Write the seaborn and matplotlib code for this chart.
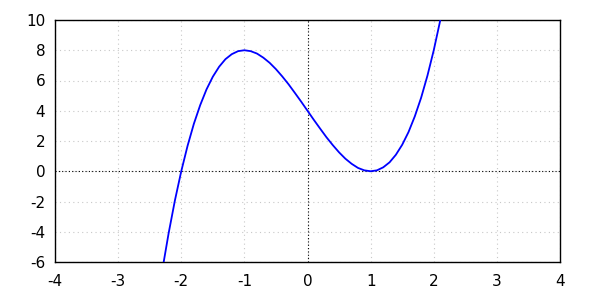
import matplotlib
matplotlib.use("Agg")
import matplotlib.pyplot as plt
import seaborn as sns
import pandas as pd

x_vals = [-2.3, -2.2, -2.1, -2.0, -1.9, -1.8, -1.7, -1.6, -1.5, -1.4, -1.3, -1.2,
          -1.1, -1.0, -0.9, -0.8, -0.7, -0.6, -0.5, -0.4, -0.3, -0.2, -0.1, 0.0,
          0.1, 0.2, 0.3, 0.4, 0.5, 0.6, 0.7, 0.8, 0.9, 1.0, 1.1, 1.2, 1.3, 1.4,
          1.5, 1.6, 1.7, 1.8, 1.9, 2.0, 2.1, 2.2]
y_vals = [-6.53, -4.10, -1.92, 0.00, 1.68, 3.14, 4.37, 5.41, 6.25, 6.91, 7.41, 7.74,
          7.94, 8.00, 7.94, 7.78, 7.51, 7.17, 6.75, 6.27, 5.75, 5.18, 4.60, 4.00,
          3.40, 2.82, 2.25, 1.73, 1.25, 0.83, 0.49, 0.22, 0.06, 0.00, 0.06, 0.26,
          0.59, 1.09, 1.75, 2.59, 3.63, 4.86, 6.32, 8.00, 9.92, 12.10]
x_ticks = [-4, -3, -2, -1, 0, 1, 2, 3, 4]
y_ticks = [-6, -4, -2, 0, 2, 4, 6, 8, 10]

sns.set_style("white")
plt.rcParams['font.family'] = ['DejaVu Sans']
plt.rcParams['axes.unicode_minus'] = False

df = pd.DataFrame({"x": x_vals, "y": y_vals})

fig = plt.figure(figsize=(6, 3), dpi=100)
ax = fig.add_axes([55/600, 1 - 262/300, (560 - 55)/600, (262 - 20)/300])

for t in x_ticks:
    ax.axvline(t, color="#c8c8c8", lw=0.8, ls=(0, (1, 3)), zorder=0)
for t in y_ticks:
    ax.axhline(t, color="#c8c8c8", lw=0.8, ls=(0, (1, 3)), zorder=0)
ax.axhline(0, color="black", lw=0.8, ls=(0, (1, 2)), zorder=1)
ax.axvline(0, color="black", lw=0.8, ls=(0, (1, 2)), zorder=1)

sns.lineplot(data=df, x="x", y="y", ax=ax, color="#0000ff", lw=1.3, sort=False,
             estimator=None, zorder=3)

ax.set_xlim(-4, 4)
ax.set_ylim(-6, 10)
ax.set_xticks(x_ticks)
ax.set_yticks(y_ticks)
ax.set_xticklabels([str(t) for t in x_ticks])
ax.set_yticklabels([str(t) for t in y_ticks])
ax.set_xlabel("")
ax.set_ylabel("")
ax.tick_params(direction="in", length=7, width=1, labelsize=11, color="black",
               labelcolor="black", top=False, right=False)
ax.tick_params(axis="x", pad=9)
ax.tick_params(axis="y", pad=7)
for s in ax.spines.values():
    s.set_color("black")
    s.set_linewidth(1)

fig.savefig("out.png", dpi=100)
